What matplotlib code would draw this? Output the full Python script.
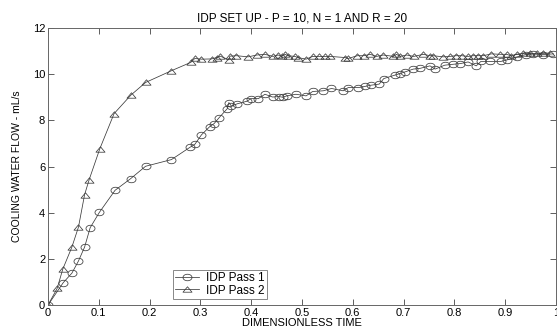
import numpy as np
import matplotlib
matplotlib.use('Agg')
import matplotlib.pyplot as plt
from matplotlib.path import Path

# values
pass1_t = [0, 0.030, 0.047, 0.060, 0.072, 0.083, 0.101, 0.132, 0.163, 0.192,
           0.243, 0.280, 0.289, 0.302, 0.318, 0.327, 0.337, 0.353, 0.356, 0.361,
           0.373, 0.392, 0.399, 0.414, 0.427, 0.442, 0.455, 0.462, 0.470, 0.488,
           0.508, 0.521, 0.542, 0.558, 0.581, 0.591, 0.611, 0.624, 0.635, 0.652,
           0.661, 0.683, 0.692, 0.703, 0.719, 0.732, 0.752, 0.762, 0.781, 0.798,
           0.812, 0.827, 0.843, 0.852, 0.870, 0.891, 0.904, 0.924, 0.940, 0.955,
           0.975, 0.995]
pass1_flow = [0, 0.97, 1.38, 1.91, 2.51, 3.35, 4.01, 4.97, 5.48, 6.01,
              6.30, 6.84, 6.96, 7.37, 7.72, 7.86, 8.12, 8.51, 8.77, 8.62,
              8.72, 8.83, 8.94, 8.94, 9.13, 9.01, 9.03, 9.00, 9.06, 9.13,
              9.06, 9.25, 9.28, 9.38, 9.28, 9.42, 9.42, 9.47, 9.52, 9.57,
              9.81, 9.96, 10.02, 10.10, 10.22, 10.25, 10.36, 10.22, 10.39, 10.43,
              10.46, 10.53, 10.36, 10.55, 10.55, 10.55, 10.62, 10.75, 10.85, 10.87,
              10.85, 10.88]

pass2_t = [0, 0.018, 0.029, 0.047, 0.060, 0.072, 0.081, 0.102, 0.130, 0.163,
           0.192, 0.243, 0.281, 0.289, 0.302, 0.322, 0.332, 0.339, 0.356, 0.358,
           0.371, 0.394, 0.411, 0.427, 0.443, 0.453, 0.460, 0.467, 0.472, 0.486,
           0.492, 0.508, 0.521, 0.534, 0.545, 0.555, 0.585, 0.591, 0.609, 0.622,
           0.634, 0.647, 0.660, 0.680, 0.686, 0.693, 0.706, 0.720, 0.739, 0.752,
           0.758, 0.778, 0.791, 0.803, 0.814, 0.827, 0.837, 0.847, 0.857, 0.873,
           0.890, 0.903, 0.911, 0.923, 0.935, 0.949, 0.963, 0.974, 0.988]
pass2_flow = [0, 0.72, 1.55, 2.51, 3.38, 4.78, 5.43, 6.77, 8.29, 9.09,
              9.64, 10.15, 10.51, 10.68, 10.65, 10.66, 10.72, 10.78, 10.62, 10.78,
              10.80, 10.75, 10.83, 10.86, 10.77, 10.83, 10.78, 10.86, 10.80, 10.77,
              10.72, 10.65, 10.77, 10.77, 10.77, 10.77, 10.72, 10.68, 10.80, 10.80,
              10.86, 10.77, 10.83, 10.77, 10.86, 10.77, 10.83, 10.77, 10.86, 10.80,
              10.80, 10.75, 10.77, 10.80, 10.80, 10.77, 10.80, 10.80, 10.80, 10.88,
              10.86, 10.86, 10.80, 10.86, 10.90, 10.90, 10.90, 10.90, 10.92]

plt.rcParams['font.family'] = ['Liberation Sans', 'DejaVu Sans']

# the picture is a bit stretched sideways, so squash the markers
circ = Path.unit_circle()
ellipse = Path(circ.vertices * [1.0, 0.72], circ.codes)
tri = Path([(-1, -0.6), (1, -0.6), (0, 0.6), (-1, -0.6)],
           [Path.MOVETO, Path.LINETO, Path.LINETO, Path.CLOSEPOLY])

fig = plt.figure(figsize=(5.57, 3.31), dpi=100)
ax = fig.add_axes([0.0862, 0.0785, 0.912, 0.8369])

ax.plot(pass1_t, pass1_flow, color='#3a3a3a', lw=0.55, marker=ellipse,
        ms=6.5, mfc='none', mec='#3a3a3a', mew=0.55, label='IDP Pass 1')
ax.plot(pass2_t, pass2_flow, color='#3a3a3a', lw=0.55, marker=tri,
        ms=6.5, mfc='none', mec='#3a3a3a', mew=0.55, label='IDP Pass 2')

ax.set_xlim(0, 1)
ax.set_ylim(0, 12)
ax.set_xticks(np.arange(0, 1.01, 0.1))
ax.set_xticklabels(['0', '0.1', '0.2', '0.3', '0.4', '0.5', '0.6', '0.7',
                    '0.8', '0.9', '1'])
ax.set_yticks(range(0, 13, 2))
ax.tick_params(direction='in', length=4, width=0.6, labelsize=8,
               top=True, right=True, colors='#444444', labelcolor='black', pad=2)
for s in ax.spines.values():
    s.set_color('#666666')
    s.set_linewidth(0.7)

ax.set_title('IDP SET UP - P = 10, N = 1 AND R = 20', fontsize=8.5, pad=5)
ax.set_xlabel('DIMENSIONLESS TIME', fontsize=8, labelpad=0.5)
ax.set_ylabel('COOLING WATER FLOW - mL/s', fontsize=7.5, labelpad=8)

leg = ax.legend(loc='lower left', bbox_to_anchor=(0.246, 0.022), fontsize=8.5,
                fancybox=False, framealpha=1, edgecolor='#888888',
                borderpad=0.2, labelspacing=0.05, handlelength=2.0,
                handletextpad=0.6, borderaxespad=0)
leg.get_frame().set_linewidth(0.7)

fig.savefig('out.png', dpi=100)
